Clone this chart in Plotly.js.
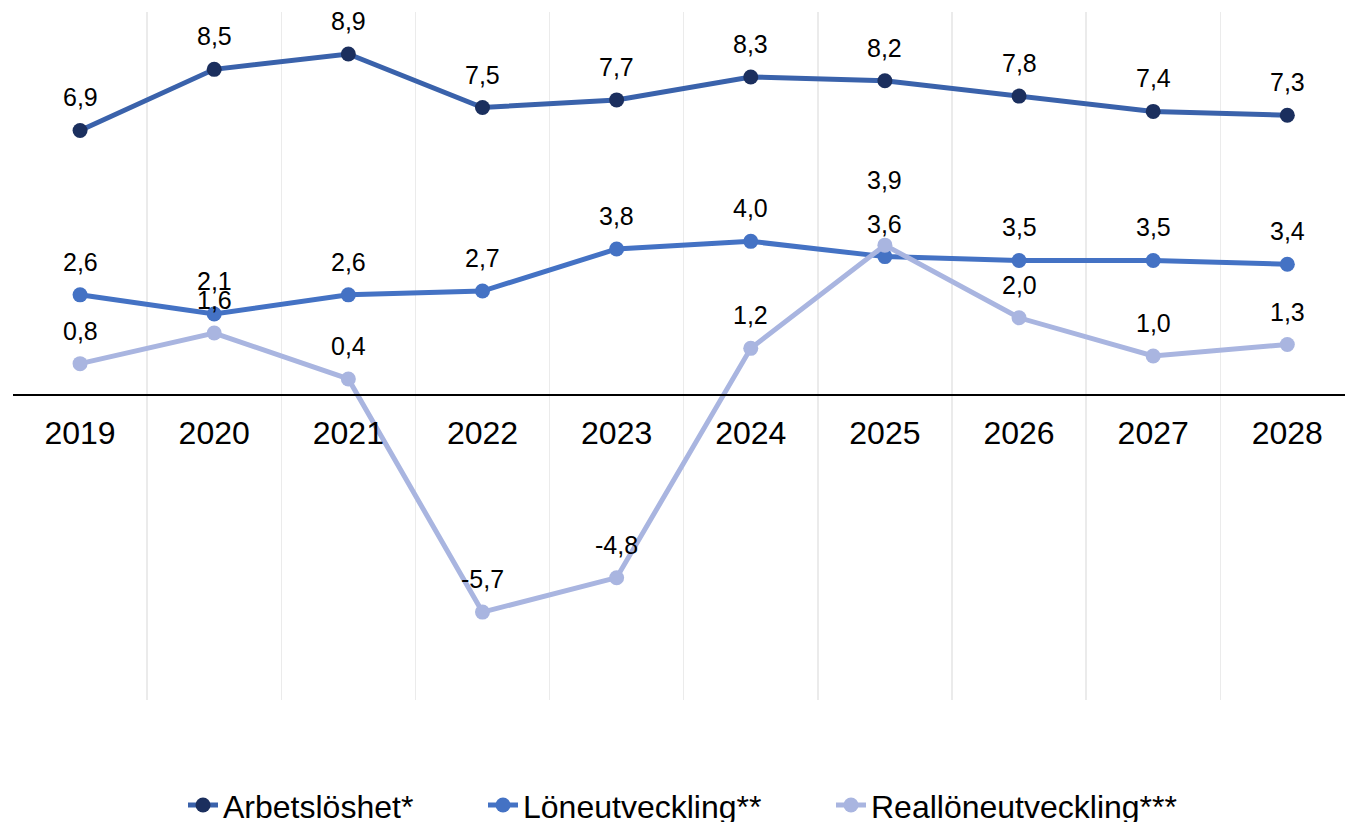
<!DOCTYPE html>
<html>
<head>
<meta charset="utf-8">
<script src="https://cdn.plot.ly/plotly-3.0.1.min.js"></script>
<style>
html,body{margin:0;padding:0;background:#fff;}
#chart{width:1345px;height:822px;}
</style>
</head>
<body>
<div id="chart"></div>
<script>
const years = ['2019','2020','2021','2022','2023','2024','2025','2026','2027','2028'];
const arbetsloshet = [6.9, 8.5, 8.9, 7.5, 7.7, 8.3, 8.2, 7.8, 7.4, 7.3];
const loneutveckling = [2.6, 2.1, 2.6, 2.7, 3.8, 4.0, 3.6, 3.5, 3.5, 3.4];
const reallon = [0.8, 1.6, 0.4, -5.7, -4.8, 1.2, 3.9, 2.0, 1.0, 1.3];
const seriesNames = ['Arbetslöshet*', 'Löneutveckling**', 'Reallöneutveckling***'];

const lineColors = ['#3a62ab', '#4472c4', '#a9b5e0'];
const markerColors = ['#1b2f5e', '#4472c4', '#a9b5e0'];
const allSeries = [arbetsloshet, loneutveckling, reallon];
const legendIds = ['legend', 'legend2', 'legend3'];
const legendTextStart = [225, 525, 873];

const fmt = v => v.toFixed(1).replace('.', ',');

const traces = allSeries.map((vals, i) => ({
  x: years, y: vals, type: 'scatter', mode: 'lines+markers',
  name: seriesNames[i], legend: legendIds[i],
  line: {color: lineColors[i], width: 5},
  marker: {color: markerColors[i], size: 15},
  hoverinfo: 'skip'
}));

const annotations = [];
allSeries.forEach((vals, i) => {
  vals.forEach((v, j) => {
    let shift = 33;
    if (i === 2 && j === 6) shift = 65;
    annotations.push({
      x: j, y: v, xref: 'x', yref: 'y', text: fmt(v),
      showarrow: false, yshift: shift,
      font: {family: 'Liberation Sans', size: 25, color: '#000'}
    });
  });
});

const layout = {
  width: 1345, height: 822,
  margin: {l: 13, r: 0, t: 12, b: 122, autoexpand: false},
  paper_bgcolor: '#fff', plot_bgcolor: '#fff',
  font: {family: 'Liberation Sans', color: '#000'},
  showlegend: true,
  xaxis: {
    type: 'category', range: [-0.5, 9.43], tickson: 'boundaries',
    showgrid: true, gridcolor: '#ebebeb', gridwidth: 1.5,
    anchor: 'free', position: 0.4445,
    showline: true, linecolor: '#000', linewidth: 1.5,
    ticks: '', tickfont: {size: 32, color: '#000'}, ticklabelstandoff: 10,
    fixedrange: true
  },
  yaxis: {
    range: [-8, 10], showgrid: false, zeroline: false, showticklabels: false,
    showline: false, fixedrange: true
  },
  annotations: annotations
};
legendIds.forEach((id, i) => {
  layout[id] = {
    orientation: 'h', x: (legendTextStart[i] - 42 - 13) / 1332, xanchor: 'left',
    y: -0.153, yanchor: 'middle', bgcolor: 'rgba(0,0,0,0)',
    font: {size: 32, color: '#000', family: 'Liberation Sans'}
  };
});

try {
  Plotly.newPlot('chart', traces, layout, {displayModeBar: false, staticPlot: true})
    .catch(e => { document.body.insertAdjacentHTML('beforeend', '<pre>' + e + '</pre>'); });
} catch (e) {
  document.body.insertAdjacentHTML('beforeend', '<pre>' + e + '</pre>');
}
</script>
</body>
</html>
